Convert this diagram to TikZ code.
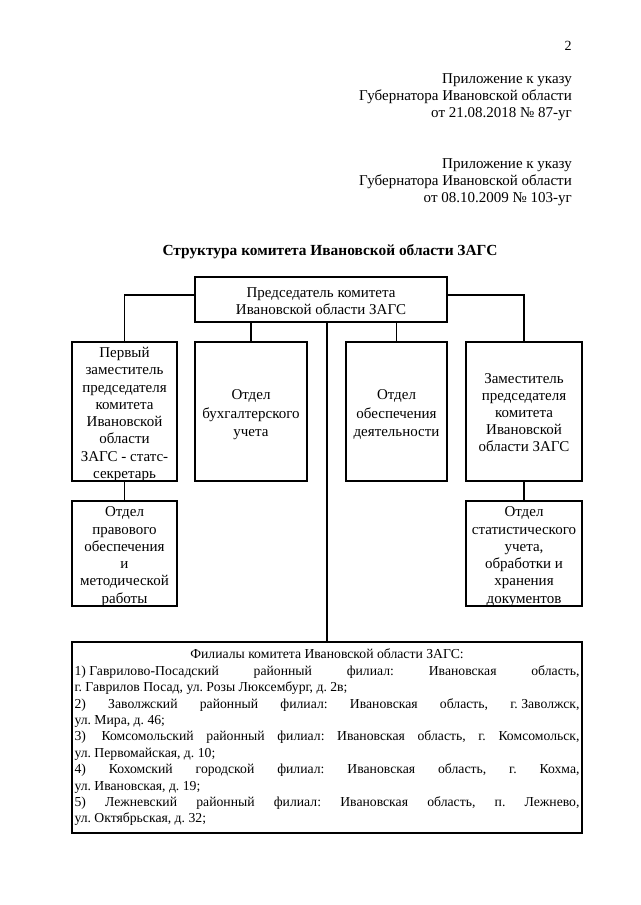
\documentclass[tikz,border=0pt]{standalone}
\usepackage{fontspec}
\setmainfont{Liberation Serif}
\usetikzlibrary{calc}
\newcommand\boxtxt[2][17.3]{\raisebox{-3pt}[\height][\depth]{\fontsize{15}{#1}\selectfont\begin{tabular}{@{}c@{}}#2\end{tabular}}}
\newcommand\jline[1]{\makebox[505pt][s]{#1}}
\tikzset{
  orgbox/.style={draw, line width=1.8pt, inner sep=0pt},
  conn/.style={line width=1.5pt},
  hdr/.style={anchor=east, align=right, inner sep=0pt,
    font=\fontsize{15}{17}\selectfont},
}
\begin{document}
\begin{tikzpicture}[x=1pt,y=-1pt]
\useasboundingbox (0,0) rectangle (640,905);
\fill[white] (0,0) rectangle (640,905);

\node[inner sep=0pt, font=\fontsize{14}{16}\selectfont] (pg) at (568,46) {2};
\node[hdr] (h1) at (572,97) {Приложение к указу\\Губернатора Ивановской области\\от 21.08.2018 № 87-уг};
\node[hdr] (h2) at (572,182) {Приложение к указу\\Губернатора Ивановской области\\от 08.10.2009 № 103-уг};
\node[inner sep=0pt, font=\fontsize{15.4}{17}\selectfont\bfseries] (title) at (330,252)
  {Структура комитета Ивановской области ЗАГС};

\node[orgbox, minimum width=252, minimum height=45] (top) at (321,299.5)
  {\boxtxt{Председатель комитета\\Ивановской области ЗАГС}};

\node[orgbox, minimum width=105, minimum height=139] (b1) at (124.5,411.5)
  {\boxtxt{Первый\\заместитель\\председателя\\комитета\\Ивановской\\области\\ЗАГС - статс-\\секретарь}};
\node[orgbox, minimum width=112, minimum height=139] (b2) at (251,411.5)
  {\boxtxt[18.5]{Отдел\\бухгалтерского\\учета}};
\node[orgbox, minimum width=101, minimum height=139] (b3) at (396.5,411.5)
  {\boxtxt[18.5]{Отдел\\обеспечения\\деятельности}};
\node[orgbox, minimum width=116, minimum height=139] (b4) at (524,411.5)
  {\boxtxt[17]{Заместитель\\председателя\\комитета\\Ивановской\\области ЗАГС}};

\node[orgbox, minimum width=105, minimum height=105] (s1) at (124.5,553.5)
  {\boxtxt{Отдел\\правового\\обеспечения\\и\\методической\\работы}};
\node[orgbox, minimum width=116, minimum height=105] (s4) at (524,553.5)
  {\boxtxt{Отдел\\статистического\\учета,\\обработки и\\хранения\\документов}};

\node[draw, line width=1.8pt, minimum width=510, minimum height=191,
  text width=505, inner xsep=2.5pt, inner ysep=0pt, align=left,
  font=\fontsize{13.7}{16.4}\selectfont\frenchspacing] (fil) at (327,737.5)
{\spaceskip=0pt\xspaceskip=0pt
\makebox[505pt][c]{Филиалы комитета Ивановской области ЗАГС:}\\
\jline{\mbox{1) Гаврилово-Посадский} районный филиал: Ивановская область,}\\
г. Гаврилов Посад, ул. Розы Люксембург, д. 2в;\\
\jline{2) Заволжский районный филиал: Ивановская область, \mbox{г. Заволжск,}}\\
ул. Мира, д. 46;\\
\jline{3)\hspace{3pt} Комсомольский районный филиал: Ивановская область, г. Комсомольск,}\\
ул. Первомайская, д. 10;\\
\jline{4) Кохомский городской филиал: Ивановская область, г. Кохма,}\\
ул. Ивановская, д. 19;\\
\jline{5) Лежневский районный филиал: Ивановская область, п. Лежнево,}\\
ул. Октябрьская, д. 32;};

\draw[conn] ([yshift=4.5pt]top.west) -| (b1.north);
\draw[conn] ([yshift=4.5pt]top.east) -| (b4.north);
\draw[conn] (b2.north) -- (b2.north |- top.south);
\draw[conn] (b3.north) -- (b3.north |- top.south);
\draw[conn] (fil.north |- top.south) -- (fil.north);
\draw[conn] (b1.south) -- (s1.north);
\draw[conn] (b4.south) -- (s4.north);
\end{tikzpicture}
\end{document}
